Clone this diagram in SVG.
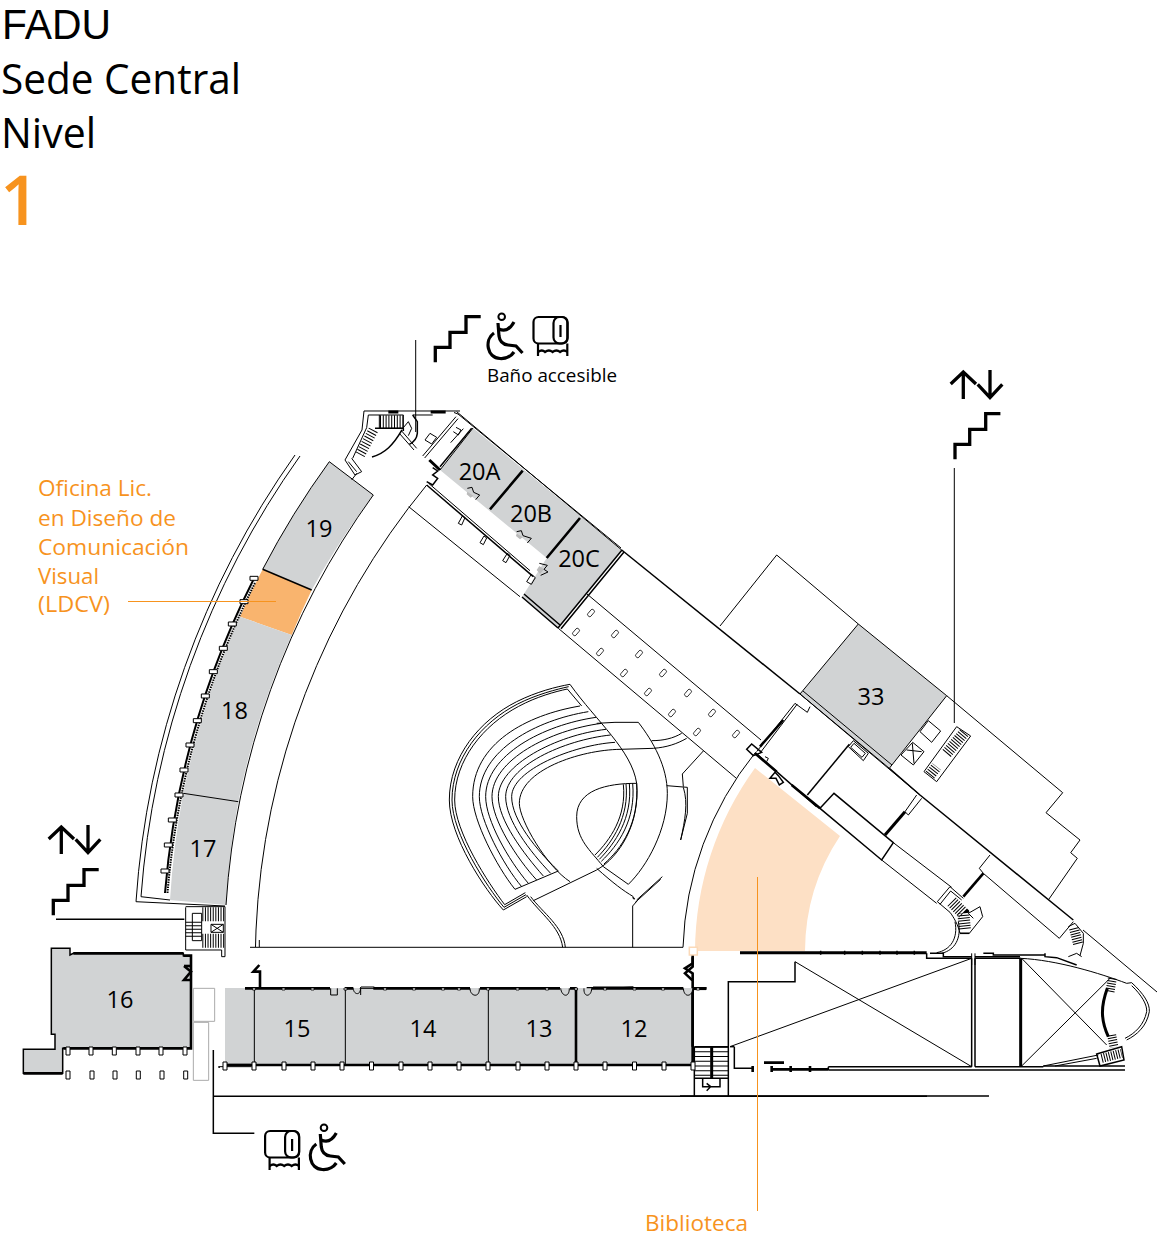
<svg xmlns="http://www.w3.org/2000/svg" width="1158" height="1238" viewBox="0 0 1158 1238">
<style>
path,line,polyline,polygon,rect,circle,use{vector-effect:non-scaling-stroke}
.l,.m,.h,.x,.w{fill:none;stroke:#000;stroke-width:1}
.m{stroke-width:1.5}.h{stroke-width:2.6}.x{stroke-width:3}
.w{fill:#fff}
.g{fill:#d1d3d4;stroke:none}
.ic{fill:none;stroke:#000;stroke-width:3.3}
.t{font-family:"Open Sans","Noto Sans",sans-serif;fill:#000}
.n{font-size:23.5px;text-anchor:middle}
.o{fill:#f7931e;font-size:22.5px}
.lead{stroke:#f7931e;stroke-width:1;fill:none}
.sl{fill:none;stroke:#000}
</style>
<defs>
<path id="st" class="ic" d="M435.3 362.3V347.3H450V332.3H466V316.7H480.7"/>
<g id="ar"><path class="ic" d="M963.3 399V372M950.7 384L963.3 372L976 384M990 370V397.5M977.7 384.3L990 397.5L1002.3 384.3"/></g>
<g id="wc" fill="none" stroke="#000"><circle cx="501.7" cy="316.7" r="3.3" stroke-width="2"/><path stroke-width="3.200" d="M498 323L499 336Q500 344 508 345L516 346L522.5 353M499 329Q508 333 514 322M494 333C484 340 487 358 500 358.5C507 359 512 355 514 352"/></g>
<g id="rl" fill="none" stroke="#000" stroke-width="2.2"><rect x="533.5" y="317" width="34" height="26.5" rx="5"/><rect x="553.5" y="317" width="14" height="26.5" rx="6"/><path d="M560.5 325V337M538 343.5V356M567.3 343.5V356"/><path d="M538 352q4-3 7 0q4-3 7.500 0q4-3 7.500 0q4-3 7.300 0"/></g>
<rect id="c" x="-2" y="-4" width="4" height="8" fill="#fff" stroke="#000"/>
<rect id="k" x="-1.500" y="-1" width="3" height="2" fill="#fff" stroke="#000" stroke-width=".8"/>
<rect id="b" x="-2" y="-4" width="4" height="8" rx="1.500" fill="#fff" stroke="#000" stroke-width=".8"/>
<path id="tb" class="w" d="M-20 -6H4V6H-20Z"/>
</defs>

<g id="titulo">
<text x="2" y="38.500" font-size="42" font-family="Liberation Sans, sans-serif" textLength="109" lengthAdjust="spacingAndGlyphs">FADU</text>
<text class="t" x="1" y="93.500" font-size="42" textLength="240" lengthAdjust="spacingAndGlyphs">Sede Central</text>
<text class="t" x="1" y="147.700" font-size="42" textLength="95" lengthAdjust="spacingAndGlyphs">Nivel</text>
<text class="t" x="0" y="225" font-size="69" font-weight="600" style="fill:#f7931e">1</text>
</g>

<!-- fills -->
<g id="biblioteca"><path fill="#fde0c5" d="M695 951A315 315 0 0 1 755 768L840 836A209 209 0 0 0 805 951Z"/></g>
<g id="aula-19"><path class="g" d="M262.700 569.300A843 843 0 0 1 329.300 461.700L373.300 495A786 786 0 0 0 311.700 590Z"/><text class="t n" x="319" y="537">19</text></g>
<g id="oficina-ldcv"><path fill="#f9b46e" d="M240 616.700A843 843 0 0 1 262.700 569.300L311.700 590A786 786 0 0 0 291.700 635Z"/></g>
<g id="aula-18"><path class="g" d="M183.300 793.300A843 843 0 0 1 240 616.700L291.700 635A786 786 0 0 0 238.300 801.700Z"/><text class="t n" x="234.500" y="719">18</text></g>
<g id="aula-17"><path class="g" d="M170 900A843 843 0 0 1 183.300 793.300L238.300 801.700A786 786 0 0 0 226 905Z"/><text class="t n" x="203" y="857">17</text></g>
<g id="aula-20"><path class="g" d="M440 470L546.700 558L522 597L558 628L622 550L473 428Z"/>
<text class="t n" x="479.500" y="480">20A</text><text class="t n" x="531" y="522">20B</text><text class="t n" x="579" y="567">20C</text></g>
<g id="aula-33"><path class="g" d="M858.300 624L946.700 695.700L889.300 768.300L800 694Z"/><text class="t n" x="871" y="705">33</text></g>
<g id="aula-16"><path class="g" d="M51.300 948.300H70V955L73 953.300H183V955.700H191V1048.300H63.300V1073.300H23.300V1049.300H55V1035L51.300 1034Z"/><text class="t n" x="120" y="1008">16</text></g>
<g id="aulas-12-15"><rect class="g" x="225" y="988" width="468" height="76"/>
<text class="t n" x="297" y="1037">15</text><text class="t n" x="423" y="1037">14</text><text class="t n" x="539" y="1037">13</text><text class="t n" x="634" y="1037">12</text></g>

<g id="planta">
<!-- rooms outlines -->
<path class="l" d="M329.300 461.700L373.300 495M329.300 461.700A843 843 0 0 0 262.700 569.300M373.300 495A786 786 0 0 0 226 905M440 470L473 428"/>
<path class="m" d="M262.700 569.300L311.700 590"/>
<path class="l" d="M183.300 793.300L238.300 801.700"/>
<path class="h" d="M522.700 470.700L490 509.300M580 518L546.700 558"/>
<path class="l" d="M136 901.700L225 906M141 896.700L170 900M136 901.700A875 875 0 0 1 295 455M141 896.700A870 870 0 0 1 300 456"/>
<path class="sl" stroke-width="2" d="M165 893A847 847 0 0 1 253.300 580"/>
<path class="sl" stroke-width="2" stroke-dasharray="1.500 1" d="M167.500 893A844 844 0 0 1 255.500 582"/>
<g transform="translate(130 450) scale(.33333)"><use href="#tb" x="380" y="385"/><use href="#tb" x="350" y="455"/><use href="#tb" x="315" y="522"/><use href="#tb" x="288" y="595"/><use href="#tb" x="258" y="665"/><use href="#tb" x="234" y="738"/><use href="#tb" x="210" y="812"/><use href="#tb" x="188" y="885"/><use href="#tb" x="170" y="960"/><use href="#tb" x="155" y="1035"/><use href="#tb" x="135" y="1110"/><use href="#tb" x="123" y="1185"/><use href="#tb" x="113" y="1263"/></g>

<!-- inner corridor lines -->
<path class="l" d="M255.500 947L256 930A754 754 0 0 1 426.700 485M250 947.300H683A327 327 0 0 1 755 753"/>
<path class="l" d="M259.300 940V947"/>

<!-- main diagonal -->
<path class="l" d="M456.700 411.700L621.700 550M454 412.500L458 414L621 548"/>
<path class="m" d="M621.700 550L800 694"/>
<path class="l" d="M800 694L858.300 624L946.700 695.700M720 626L776.700 555L858.300 624M946.700 695.700L1062.700 792.700L1046 812.700L1080 840L1070.700 852.700L1077.300 858.300L1048.300 900M1083 930L1157 992"/>
<path class="l" d="M800 694L889.300 768.300M803 691L892 765"/>
<path class="m" d="M889.300 768.300L920 795L1073.300 920"/>
<path class="l" d="M889.300 768.300L946.700 695.700"/>

<!-- corridor -->
<path class="l" d="M408.700 506.700L520 596.700M558.300 628.300L736 778M587 594L761 740"/>
<path class="m" d="M522 597L558 628M524 594L560 625M558 628L622 550M561 628.800L624 552"/>
<g transform="translate(330 300) scale(.33333)">
<path class="m" d="M290 555L610 830"/><path class="l" d="M296 550L600 812"/>
<path class="l" d="M385 670l12 -22l8 5l-10 22zM450 728l12 -20l8 6l-10 20zM518 782l14 -22l8 6l-12 22zM590 845l14 -22l12 10l-12 20z"/>
<path class="x" d="M298 480L330 510"/>
<path class="m" d="M290 545l18 10l15 -20l-15 -10l15 -12l-15 -10"/>
<path fill="#bbb" d="M412 575l18 12l-8 6l-12-10zM560 700l18 12l-8 6l-12-10zM628 798l14 10l-12 14l-10-12z"/>
<path class="l" d="M412 565l14 -3l5 15l18 8l-12 14M560 695l14 -3l5 15l25 8l-12 14M628 790l24 6l-10 12l12 8l-22 10"/>
<path class="l" d="M278 468L378 350M284 474L384 356M300 400l20 12l-15 20l-20 -12zM370 395l15 10l8 -15l-15 -8M362 428l38 -42"/>
<path class="m" d="M330 500L425 385"/>
</g>
<g id="bol-col"><use href="#b" transform="translate(591 613) rotate(40)"/><use href="#b" transform="translate(615 634) rotate(40)"/><use href="#b" transform="translate(639 654) rotate(40)"/><use href="#b" transform="translate(663 673) rotate(40)"/><use href="#b" transform="translate(688 693) rotate(40)"/><use href="#b" transform="translate(712 713) rotate(40)"/><use href="#b" transform="translate(736 734) rotate(40)"/><use href="#b" transform="translate(576 632) rotate(40)"/><use href="#b" transform="translate(600 652) rotate(40)"/><use href="#b" transform="translate(624 673) rotate(40)"/><use href="#b" transform="translate(648 692) rotate(40)"/><use href="#b" transform="translate(672 713) rotate(40)"/><use href="#b" transform="translate(697 732) rotate(40)"/></g>

<!-- top stair -->
<g id="esc-norte" transform="translate(340 405) scale(.33333)">
<path class="l" d="M72 18H360M72 18L66 75L15 165M85 30H190M85 30L80 68L38 160M15 165l30 45l20 -10l-30 -40M35 225l15 -20M25 170l25 30"/>
<path class="l" d="M218 30h60"/>
<path class="x" d="M145 21h30M272 21h45"/>
<path class="sl" stroke-width="13" stroke-dasharray="1 1.800" d="M120 50H190"/>
<path d="M118 30V70H190V30" class="l"/>
<path class="sl" stroke-width="10" stroke-dasharray="1 2" d="M100 75L60 150"/>
<path class="m" d="M105 70H190V78"/>
<path class="m" d="M186 75C160 120 135 145 96 156"/>
<path class="l" d="M185 78L230 130M178 85L222 135M190 68L205 50L215 70L205 92"/>
<path class="m" d="M218 30L232 50V85C230 105 220 112 208 118"/>
</g>

<!-- amphitheatre -->
<g id="anfiteatro" transform="translate(440 670) scale(.33333)">
<path class="l" d="M260 680L190 720C135 660 28 500 28 390C28 260 120 150 230 95C290 65 350 50 390 43"/>
<path class="l" d="M258 674L192 712C140 650 36 490 36 390C36 265 125 157 233 102C290 73 350 58 386 50"/>
<path class="l" d="M256 668L194 704C145 640 44 485 44 390C44 270 130 165 236 109C290 80 345 65 382 57L425 108"/>
<path class="l" d="M390 43C470 155 575 240 590 340"/>
<g class="l">
<path d="M420 108C260 135 98 220 98 380C98 450 170 590 225 658"/>
<path d="M445 125C290 150 118 240 118 380C118 450 190 585 245 650"/>
<path d="M468 142C310 165 137 255 137 380C137 450 205 570 265 640"/>
<path d="M485 160C330 180 156 270 156 380C156 450 230 565 290 630"/>
<path d="M498 178C350 195 175 285 175 380C175 450 250 550 310 618"/>
<path d="M512 195C370 210 197 290 197 380C197 450 270 545 332 610"/>
<path d="M525 217C400 225 215 300 215 380C215 450 290 540 355 603"/>
<path d="M540 238C420 240 238 300 238 400C238 450 320 590 390 635"/>
</g>
<path class="l" d="M225 658L355 603M280 692L470 600M470 600C540 560 600 460 590 340M470 160L525 157H595C640 215 682 290 682 370C682 480 620 590 565 643L490 590M540 238L640 235C680 232 710 222 740 205M635 212C670 212 700 205 725 190"/>
<path class="l" d="M590 340C500 340 410 360 410 440C410 510 450 540 490 590"/>
<path class="l" d="M550 343C560 440 510 510 465 555M558 342C568 440 518 515 472 562M568 341C578 445 525 520 478 568M578 340C588 450 535 525 484 574M590 340C598 460 545 535 492 582"/>
<path class="l" d="M470 595C520 640 550 662 580 680M590 690L667 620M585 698L662 628M578 832V708L592 692M260 675C300 730 360 770 368 832M272 680C310 730 370 770 376 832"/>
<path class="m" d="M578 682l6 6"/>
<path class="l" d="M790 243L727 312L730 350M680 347L742 352V430L722 510M730 352C745 400 735 450 722 510"/>
</g>

<!-- mid complex -->
<g id="nucleo" transform="translate(720 550) scale(.33333)">
<path class="m" d="M80 598L95 582L125 607L100 617L80 598ZM105 608L290 770"/>
<path class="h" d="M105 610L170 665M215 705L300 775"/>
<path class="l" d="M110 605L225 460M118 612L232 462M135 620l10 5l-5 10"/>
<path class="h" d="M120 590L190 510"/>
<path class="m" d="M150 685l15 -18l10 10l15 20l-12 8l-10 -20z"/>
<path class="l" d="M240 432L600 735M225 460L262 487L270 470"/>
<path class="m" d="M262 735L388 583"/>
<path class="w" d="M385 590l15 -18l45 38l-15 22zM392 592l10 -12l34 30l-10 12z"/>
<path class="m" d="M300 775L342 730L520 878L485 930Z"/>
<path class="l" d="M485 930L650 1060M520 878L695 1012"/>
<path class="x" d="M495 855L555 785"/>
<path class="l" d="M555 785L590 735M565 795L605 745M555 785l10 10"/>
<path class="l" d="M810 915L778 955L790 970L1018 1165L1060 1115"/>
<path class="h" d="M790 970L730 1040"/>
<path class="w" d="M625 512L662 543L635 577L600 545Z"/>
<path class="w" d="M578 577L612 605L580 645L543 615ZM560 600L605 605M577 580L582 640"/>
<path class="w" d="M710 530L752 558L650 695L612 665Z"/>
<path class="sl" stroke-width="11" stroke-dasharray="1 1.600" d="M630 675L650 650"/>
<path class="sl" stroke-width="11" stroke-dasharray="1 1.600" d="M680 610L735 545"/>
</g>
<g id="esc-este" transform="translate(930 885) scale(.33333)">
<path class="l" d="M22 50L60 5L100 40M30 58L62 18L95 45M22 50L60 82C70 95 85 120 90 145H118L158 95L150 65L115 85L130 100"/>
<path class="sl" stroke-width="12" stroke-dasharray="1 1.600" d="M65 50L100 85L105 135"/>
<path class="m" d="M90 145H118"/>
<path class="l" d="M85 110C95 160 75 195 35 205M75 110C85 160 62 195 20 203"/>
<path class="m" d="M0 205H40V215H125M135 215H270M160 205H190V210H345V205V215L380 218L440 240"/>
<path class="l" d="M125 205V240M135 205V240"/>
<path class="sl" stroke-width="10" stroke-dasharray="1 1.500" d="M432 130L445 180"/>
<path class="l" d="M415 125L435 115L460 145V175L450 212M415 215L440 205L455 215"/>
</g>

<!-- south-east block -->
<g id="bloque-sur" transform="translate(680 930) scale(.33333)">
<path class="x" d="M180 68H740"/>
<path class="m" d="M422 62v12M494 62v12M547 62v12M600 62v12M651 62v12M703 62v12"/>
<path class="m" d="M740 70V85H875"/>
<path class="m" d="M875 85V410M885 85V410M885 85H1022"/>
<path class="x" d="M1022 85V410"/>
<path class="l" d="M1022 85C1130 90 1260 130 1340 160L1355 158C1390 190 1410 220 1408 245C1400 290 1370 315 1340 330"/>
<path class="l" d="M1355 167C1385 195 1402 225 1400 245C1392 285 1365 310 1335 325"/>
<path class="x" d="M1282 175C1262 230 1262 270 1285 320"/>
<path class="sl" stroke-width="9" stroke-dasharray="1 1.500" d="M1297 145L1290 185M1295 315L1302 352"/>
<path class="m" d="M1250 372L1325 350L1332 390L1260 408Z"/>
<path class="sl" stroke-width="9" stroke-dasharray="1 1.500" d="M1265 385L1325 370"/>
<path class="l" d="M1090 408L1255 375M1125 408L1250 385"/>
<path class="m" d="M445 410H875M885 410H1090M445 420H1335M1090 408H1335M445 410V420"/>
<path class="l" d="M1025 85L1280 345M1025 408L1290 145M345 95L875 410M150 350L875 85"/>
<path class="m" d="M345 95V155H145V498M43 350V498M0 498H927"/>
<path class="sl" stroke-width="16" stroke-dasharray="1 3.700" d="M68 350V445M120 350V445"/>
<path class="x" d="M95 350V445"/>
<path class="m" d="M43 350H145M43 445H145M68 445V470H120V445M80 460l12 10l-12 12"/>
<path class="m" d="M163 350V415H220"/><path class="h" d="M218 408v18M275 408v18M332 408v18M390 408v18"/>
<path class="h" d="M275 418H445M252 398H312"/>
<path class="m" d="M150 350H163"/>
<!-- wall beside 12 -->
<path class="h" d="M38 75V100L15 115L38 130V150M38 178V350"/>
<path class="m" d="M38 178H78"/>
<path fill="#fff" stroke="#fbd9b8" stroke-width="1.500" d="M28 52H52V75H28Z"/>
</g>

<!-- west stairs -->
<g id="esc-oeste" transform="translate(10 900) scale(.33333)">
<path class="l" d="M527 22V150H635V170H645V20H527"/>
<path class="l" d="M547 40H575V122H547Z"/>
<path class="sl" stroke-width="16" stroke-dasharray="1 2.500" d="M551 65V110"/>
<path class="sl" stroke-width="14" stroke-dasharray="1 1.600" d="M577 43H642M577 122H642"/>
<path class="w" d="M603 73H640V97H603ZM603 73L640 97M603 97L640 73"/>
<path class="m" d="M138 58H523"/>
<path class="m" d="M124 145V403H135V448H40V520H158V445H543V167H520V160H190L180 165V145Z"/>
<path class="h" d="M190 160H520M520 167H543V445H160M40 520H158"/>
<path class="h" d="M522 198L543 215L522 240H543"/>
<path class="h" d="M522 198H543"/>
<path class="m" d="M610 450V700H733M610 589H2751"/>
<rect x="550" y="265" width="64" height="99" fill="none" stroke="#aaa" stroke-width="1"/>
<rect x="550" y="367" width="46" height="174" fill="none" stroke="#aaa" stroke-width="1"/>
</g>
<g id="col-16"><use href="#c" x="68" y="1051"/><use href="#c" x="91" y="1051"/><use href="#c" x="114.300" y="1051"/><use href="#c" x="138" y="1051"/><use href="#c" x="161" y="1051"/><use href="#c" x="185" y="1051"/><use href="#c" x="68" y="1075"/><use href="#c" x="92" y="1075"/><use href="#c" x="115" y="1075"/><use href="#c" x="138.300" y="1075"/><use href="#c" x="162" y="1075"/><use href="#c" x="185.700" y="1075"/></g>

<!-- bottom corridor rooms -->
<g id="muros-aulas" transform="translate(220 950) scale(.33333)">
<path class="h" d="M75 115H330M375 115H400M460 115H750M780 115H1020M1050 115H1070M1100 115H1390M1420 115H1460"/>
<path class="h" d="M120 115V65H100L118 45"/>
<path class="h" d="M1418 115V92L1395 70L1418 50V22M1418 115V340"/>
<path class="l" d="M103 115V345M376 115V345M805 115V345"/>
<path class="h" d="M1068 115V345"/>
<path class="l" d="M420 115h45l-2 -4h-40zM1115 115h45l80 -4h-120z"/>
<path d="M332 115V135H352V115M400 115C400 132 420 140 422 115V135M750 115C750 140 780 145 778 115M1022 115C1025 140 1048 145 1048 115M1092 115C1090 145 1115 140 1115 115M1390 115C1392 145 1418 140 1418 115" fill="#d1d3d4" stroke="#000" stroke-width="1"/>
<path class="h" d="M15 345H1420"/>
<path class="l" d="M-5 350H95M15 343H95M-5 352H0"/>
</g>
<g id="col-top"><use href="#k" x="254" y="989"/><use href="#k" x="283.500" y="989"/><use href="#k" x="312.500" y="989"/><use href="#k" x="345.500" y="989"/><use href="#k" x="385" y="989"/><use href="#k" x="414" y="989"/><use href="#k" x="443" y="989"/><use href="#k" x="459" y="989"/><use href="#k" x="488" y="989"/><use href="#k" x="517.500" y="989"/><use href="#k" x="547" y="989"/><use href="#k" x="576" y="989"/><use href="#k" x="605" y="989"/><use href="#k" x="634.500" y="989"/><use href="#k" x="663" y="989"/><use href="#k" x="698" y="989"/></g>
<g id="col-sur"><use href="#c" x="225" y="1066"/><use href="#c" x="254" y="1066"/><use href="#c" x="284" y="1066"/><use href="#c" x="313" y="1066"/><use href="#c" x="342" y="1066"/><use href="#c" x="371.500" y="1066"/><use href="#c" x="401" y="1066"/><use href="#c" x="430" y="1066"/><use href="#c" x="459" y="1066"/><use href="#c" x="488" y="1066"/><use href="#c" x="518" y="1066"/><use href="#c" x="547" y="1066"/><use href="#c" x="576" y="1066"/><use href="#c" x="605" y="1066"/><use href="#c" x="634.500" y="1066"/><use href="#c" x="664" y="1066"/><use href="#c" x="693" y="1066"/></g>
</g>

<g id="leaders">
<path class="l" d="M415.700 340V432M954.300 468V723"/>
<path class="lead" d="M128 601.500H276M757.500 877V1211"/>
</g>

<g id="iconos">
<use href="#st"/>
<use href="#st" transform="translate(519.700 97)"/>
<use href="#st" transform="translate(-382 553)"/>
<use href="#ar"/>
<use href="#ar" transform="translate(-902 455)"/>
<use href="#wc"/><use href="#rl"/>
<use href="#rl" transform="translate(-268.400 814)"/>
<use href="#wc" transform="translate(-177.700 811)"/>
</g>

<g id="etiquetas">
<text class="t" x="487" y="382" font-size="18.500" textLength="130" lengthAdjust="spacingAndGlyphs">Baño accesible</text>
<text x="38" y="496" class="t o" textLength="114" lengthAdjust="spacingAndGlyphs">Oficina Lic.</text>
<text x="38" y="526" class="t o" textLength="138" lengthAdjust="spacingAndGlyphs">en Diseño de</text>
<text x="38" y="555" class="t o" textLength="151" lengthAdjust="spacingAndGlyphs">Comunicación</text>
<text x="38" y="584" class="t o" textLength="61" lengthAdjust="spacingAndGlyphs">Visual</text>
<text x="38" y="612" class="t o" textLength="72" lengthAdjust="spacingAndGlyphs">(LDCV)</text>
<text x="645" y="1231" class="t o" textLength="103" lengthAdjust="spacingAndGlyphs">Biblioteca</text>
</g>
</svg>
